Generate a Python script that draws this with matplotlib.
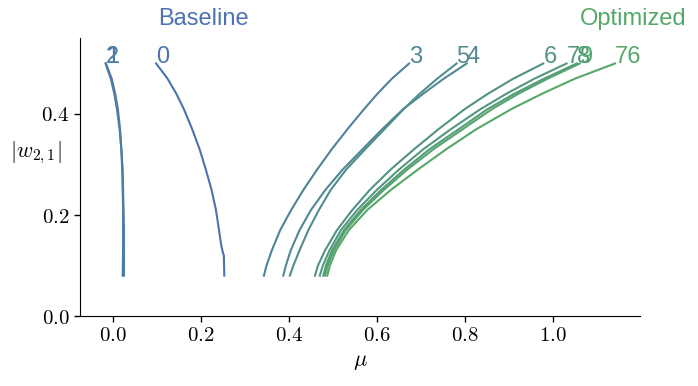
import numpy as np
import matplotlib
matplotlib.use("Agg")
import matplotlib.pyplot as plt
from matplotlib.colors import to_rgb

plt.rcParams['mathtext.fontset'] = 'cm'
plt.rcParams['font.family'] = ['Liberation Sans', 'DejaVu Sans']

# curves: |w_{2,1}| levels and the mu of each curve there
labels = ['0', '1', '2', '3', '4', '5', '6', '7', '8', '9', '76']

w_levels = [0.08, 0.10, 0.13, 0.17, 0.21, 0.25, 0.29, 0.33, 0.37, 0.41, 0.44, 0.47, 0.50]

w_0 = [0.08, 0.12, 0.125, 0.14, 0.17, 0.21, 0.25, 0.29, 0.33, 0.37, 0.41, 0.44, 0.47, 0.50]
mu_0 = [0.253, 0.252, 0.250, 0.246, 0.241, 0.234, 0.224, 0.211, 0.197, 0.180, 0.161, 0.144, 0.124, 0.098]

w_12 = [0.08, 0.13, 0.17, 0.21, 0.25, 0.29, 0.33, 0.37, 0.41, 0.44, 0.47, 0.50]
mu_1 = [0.022, 0.023, 0.023, 0.023, 0.022, 0.021, 0.019, 0.016, 0.011, 0.005, -0.003, -0.016]
mu_2 = [0.025, 0.025, 0.025, 0.024, 0.023, 0.022, 0.019, 0.015, 0.009, 0.003, -0.005, -0.017]

mu_3 = [0.343, 0.349, 0.361, 0.380, 0.405, 0.433, 0.464, 0.497, 0.533, 0.571, 0.601, 0.634, 0.673]
mu_4 = [0.387, 0.393, 0.404, 0.424, 0.450, 0.483, 0.522, 0.567, 0.612, 0.660, 0.705, 0.752, 0.804]
mu_5 = [0.402, 0.410, 0.424, 0.444, 0.468, 0.495, 0.530, 0.573, 0.617, 0.661, 0.697, 0.737, 0.781]
mu_6 = [0.459, 0.466, 0.482, 0.509, 0.544, 0.584, 0.631, 0.684, 0.740, 0.800, 0.852, 0.910, 0.978]
mu_7 = [0.470, 0.477, 0.492, 0.518, 0.555, 0.600, 0.650, 0.705, 0.768, 0.836, 0.894, 0.958, 1.031]
mu_8 = [0.478, 0.484, 0.498, 0.525, 0.563, 0.610, 0.662, 0.719, 0.786, 0.852, 0.912, 0.980, 1.054]
mu_9 = [0.482, 0.488, 0.502, 0.529, 0.568, 0.616, 0.669, 0.728, 0.795, 0.862, 0.921, 0.988, 1.061]
mu_76 = [0.487, 0.493, 0.507, 0.536, 0.578, 0.632, 0.693, 0.757, 0.826, 0.906, 0.975, 1.050, 1.141]

ws = [w_0, w_12, w_12] + [w_levels] * 8
mus = [mu_0, mu_1, mu_2, mu_3, mu_4, mu_5, mu_6, mu_7, mu_8, mu_9, mu_76]

xticks = [0.0, 0.2, 0.4, 0.6, 0.8, 1.0]
yticks = [0.0, 0.2, 0.4]

blue = np.array(to_rgb('#4c72b0'))
green = np.array(to_rgb('#55a868'))

fig = plt.figure(figsize=(6.98, 3.86), dpi=100)
ax = fig.add_axes([0.1146, 0.1813, 0.8024, 0.7203])

n = len(labels)
for k in range(n):
    t = k / (n - 1)
    col = (1 - t) * blue + t * green
    ax.plot(mus[k], ws[k], color=col, lw=1.5, solid_joinstyle='round')
    ax.text(mus[k][-1], ws[k][-1], labels[k], color=col, fontsize=17,
            ha='left', va='baseline')

ax.set_xlim(-0.075, 1.198)
ax.set_ylim(0, 0.5505)
ax.set_xticks(xticks)
ax.set_xticklabels([r'$%.1f$' % v for v in xticks], fontsize=15)
ax.set_yticks(yticks)
ax.set_yticklabels([r'$%.1f$' % v for v in yticks], fontsize=15)
ax.spines['top'].set_visible(False)
ax.spines['right'].set_visible(False)
ax.tick_params(direction='out', length=4, width=1)

ax.set_xlabel(r'$\mu$', fontsize=16)
ax.set_ylabel(r'$|w_{2,1}|$', fontsize=16, rotation=0)
ax.yaxis.set_label_coords(-0.079, 0.54)

fig.text(0.291, 0.95, 'Baseline', color='#4c72b0', fontsize=17,
         ha='center', va='center')
fig.text(0.907, 0.95, 'Optimized', color='#55a868', fontsize=17,
         ha='center', va='center')

fig.savefig('out.png', dpi=100)
